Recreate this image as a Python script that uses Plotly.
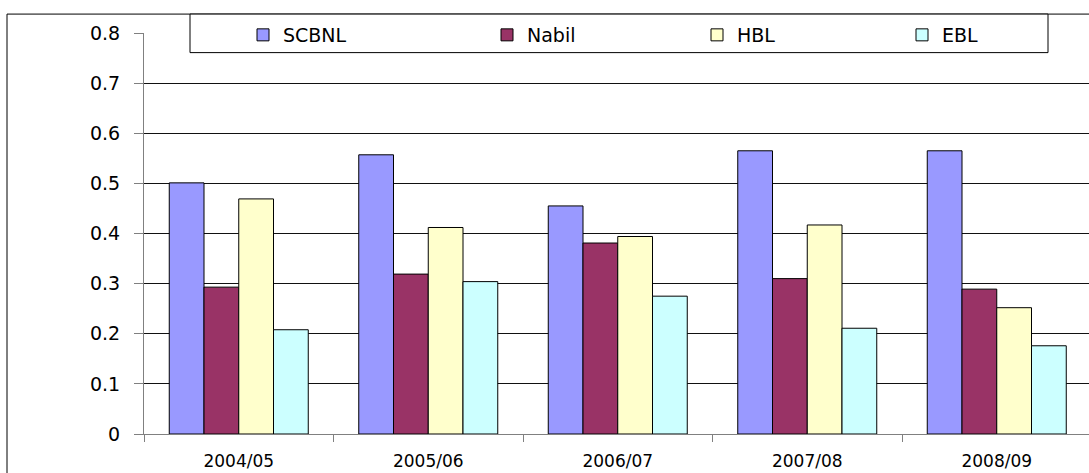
import plotly.graph_objects as go

categories = ["2004/05", "2005/06", "2006/07", "2007/08", "2008/09"]
scbnl = [0.501, 0.557, 0.455, 0.565, 0.565]
nabil = [0.293, 0.319, 0.381, 0.310, 0.289]
hbl = [0.469, 0.412, 0.394, 0.417, 0.252]
ebl = [0.208, 0.304, 0.275, 0.211, 0.176]
y_ticks = [0, 0.1, 0.2, 0.3, 0.4, 0.5, 0.6, 0.7, 0.8]
y_tick_labels = ["0", "0.1", "0.2", "0.3", "0.4", "0.5", "0.6", "0.7", "0.8"]

series = [
    ("SCBNL", scbnl, "#9999FF", "legend", 263),
    ("Nabil", nabil, "#993366", "legend2", 507),
    ("HBL", hbl, "#FFFFCC", "legend3", 717),
    ("EBL", ebl, "#CCFFFF", "legend4", 922),
]

W, H = 1089, 473
fig = go.Figure()
for name, vals, color, lg, _ in series:
    fig.add_trace(go.Bar(
        x=categories, y=vals, name=name, legend=lg,
        marker=dict(color=color, line=dict(color="#000000", width=1)),
    ))

font = "DejaVu Sans, Liberation Sans, Arial, sans-serif"
legend_common = dict(
    xref="container", yref="container", xanchor="left", yanchor="middle",
    bgcolor="rgba(0,0,0,0)", borderwidth=0,
    font=dict(family=font, size=19, color="#000000"),
    orientation="h", itemclick=False,
)
layout_legends = {}
for name, vals, color, lg, cx in series:
    layout_legends[lg] = dict(legend_common, x=(cx - 20) / W, y=1 - 35 / H)

fig.update_layout(
    width=W, height=H,
    margin=dict(l=144, r=0, t=33.4, b=39, autoexpand=False),
    paper_bgcolor="#FFFFFF", plot_bgcolor="#FFFFFF",
    barmode="group", bargap=0.2665, bargroupgap=0,
    showlegend=True,
    **layout_legends,
    xaxis=dict(
        type="category", range=[-0.5, 4.4868],
        showline=True, linecolor="#808080", linewidth=1,
        ticks="outside", ticklen=7, tickcolor="#808080", tickson="boundaries",
        showgrid=False,
        tickfont=dict(family=font, size=17, color="#000000"),
        ticklabelstandoff=12,
        fixedrange=True,
    ),
    yaxis=dict(
        range=[0, 0.8], tickvals=y_ticks, ticktext=y_tick_labels,
        showline=True, linecolor="#808080", linewidth=1,
        ticks="outside", ticklen=9, tickcolor="#808080",
        showgrid=True, gridcolor="#111111", gridwidth=1,
        zeroline=False,
        tickfont=dict(family=font, size=19, color="#000000"),
        ticklabelstandoff=10,
        fixedrange=True,
    ),
    shapes=[
        dict(type="rect", xref="paper", yref="paper",
             x0=(7 - 144) / 945, x1=(1100 - 144) / 945,
             y0=(434 - 480) / 400.6, y1=(434 - 14.5) / 400.6,
             line=dict(color="#000000", width=1), fillcolor="rgba(0,0,0,0)",
             layer="below"),
        dict(type="rect", xref="paper", yref="paper",
             x0=(190 - 144) / 945, x1=(1048 - 144) / 945,
             y0=(434 - 53) / 400.6, y1=(434 - 14.5) / 400.6,
             line=dict(color="#000000", width=1), fillcolor="#FFFFFF",
             layer="above"),
    ],
)

fig.write_html("out.html", config={"displayModeBar": False},
               post_script="document.body.style.margin='0';")
